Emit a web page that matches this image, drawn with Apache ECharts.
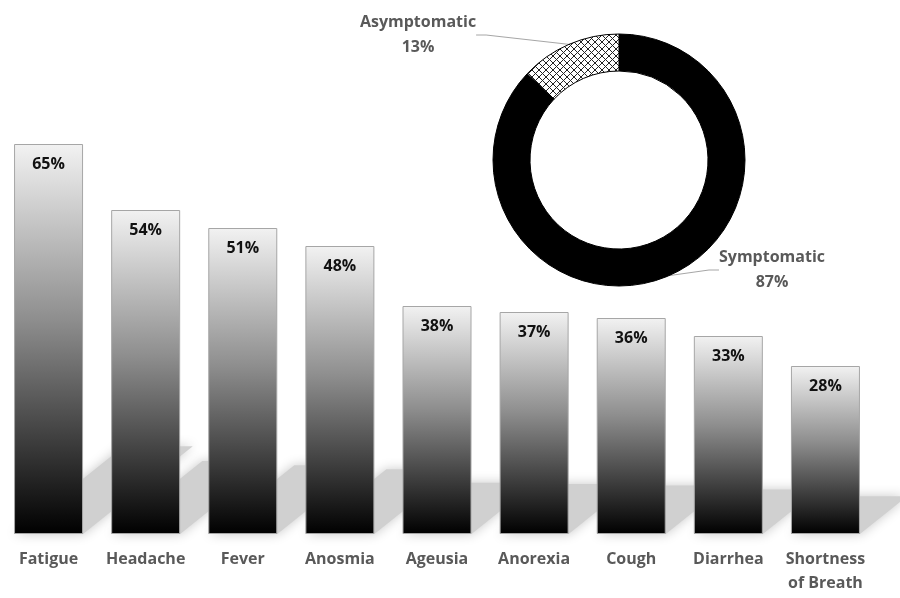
<!DOCTYPE html>
<html>
<head>
<meta charset="utf-8">
<script src="https://cdn.jsdelivr.net/npm/echarts@6/dist/echarts.min.js"></script>
<style>
  html, body { margin: 0; padding: 0; background: #ffffff; }
  #chart { width: 900px; height: 598px; }
</style>
</head>
<body>
<div id="chart"></div>
<script>
// Symptoms reported, share of patients (%)
const symptoms = ['Fatigue', 'Headache', 'Fever', 'Anosmia', 'Ageusia', 'Anorexia', 'Cough', 'Diarrhea', 'Shortness\nof Breath'];
const symptomShare = [65, 54, 51, 48, 38, 37, 36, 33, 28];

// Symptomatic vs asymptomatic split (%)
const statusNames = ['Symptomatic', 'Asymptomatic'];
const statusShare = [87, 13];

const BAR_W = 69;
const LABEL_FONT = '"Open Sans", "Noto Sans", sans-serif';

// Cross-hatch fill for the asymptomatic slice
function hatchPattern() {
  const c = document.createElement('canvas');
  c.width = 7; c.height = 7;
  const g = c.getContext('2d');
  g.fillStyle = '#ffffff';
  g.fillRect(0, 0, 7, 7);
  g.strokeStyle = '#222222';
  g.lineWidth = 1;
  g.beginPath();
  g.moveTo(0, 0); g.lineTo(7, 7);
  g.moveTo(7, 0); g.lineTo(0, 7);
  g.stroke();
  return c;
}

const chart = echarts.init(document.getElementById('chart'), null, { renderer: 'canvas' });

// Floor shadow cast diagonally up-right by each bar
function renderShadow(params, api) {
  const base = api.coord([api.value(0), 0]);
  const top = api.coord([api.value(0), api.value(1)]);
  const h = base[1] - top[1];
  const dy = h * 0.225;
  const dx = dy * 1.25;
  const x0 = base[0] - BAR_W / 2;
  const x1 = base[0] + BAR_W / 2;
  const y = base[1];
  return {
    type: 'polygon',
    shape: { points: [[x0, y], [x1, y], [x1 + dx, y - dy], [x0 + dx, y - dy]] },
    style: {
      fill: '#d0d0d0',
      shadowBlur: 12,
      shadowColor: 'rgba(200,200,200,1)'
    },
    z2: 0
  };
}

const option = {
  backgroundColor: '#ffffff',
  animation: false,
  grid: { left: -1, right: 26, top: 144, bottom: 64 },
  xAxis: {
    type: 'category',
    data: symptoms,
    axisLine: { show: false },
    axisTick: { show: false },
    axisLabel: {
      interval: 0,
      margin: 13,
      color: '#595959',
      fontFamily: LABEL_FONT,
      fontWeight: 'bold',
      fontSize: 16,
      lineHeight: 24
    }
  },
  yAxis: {
    type: 'value',
    min: 0,
    max: 65,
    show: false,
    splitLine: { show: false }
  },
  series: [
    {
      type: 'custom',
      z: 1,
      clip: false,
      silent: true,
      renderItem: renderShadow,
      data: symptomShare.map((v, i) => [i, v])
    },
    {
      type: 'bar',
      z: 2,
      barWidth: BAR_W,
      data: symptomShare,
      itemStyle: {
        borderColor: '#a6a6a6',
        borderWidth: 1,
        color: new echarts.graphic.LinearGradient(0, 0, 0, 1, [
          { offset: 0, color: '#f2f2f2' },
          { offset: 0.45, color: '#8e8e8e' },
          { offset: 1, color: '#000000' }
        ])
      },
      label: {
        show: true,
        position: 'insideTop',
        distance: 12,
        formatter: '{c}%',
        color: '#111111',
        fontFamily: LABEL_FONT,
        fontWeight: 'bold',
        fontSize: 16
      }
    },
    {
      type: 'pie',
      z: 3,
      center: [619, 160],
      radius: [89, 126],
      startAngle: 90,
      clockwise: true,
      avoidLabelOverlap: false,
      data: statusNames.map((n, i) => ({
        name: n,
        value: statusShare[i],
        itemStyle: i === 0
          ? { color: '#000000', borderColor: '#000000', borderWidth: 1 }
          : { color: { image: hatchPattern(), repeat: 'repeat' }, borderColor: '#000000', borderWidth: 1 }
      })),
      label: {
        show: true,
        position: 'outside',
        formatter: '{b}\n{c}%',
        color: '#595959',
        fontFamily: LABEL_FONT,
        fontWeight: 'bold',
        fontSize: 16,
        lineHeight: 25,
        align: 'center'
      },
      labelLine: {
        show: true,
        length: 10,
        length2: 10,
        lineStyle: { color: '#a6a6a6', width: 1 }
      },
      labelLayout: function (p) {
        if (p.dataIndex === 1) {
          return { x: 418, y: 35, align: 'center', verticalAlign: 'middle' };
        }
        return { x: 772, y: 270, align: 'center', verticalAlign: 'middle' };
      }
    }
  ]
};

chart.setOption(option);
</script>
</body>
</html>
